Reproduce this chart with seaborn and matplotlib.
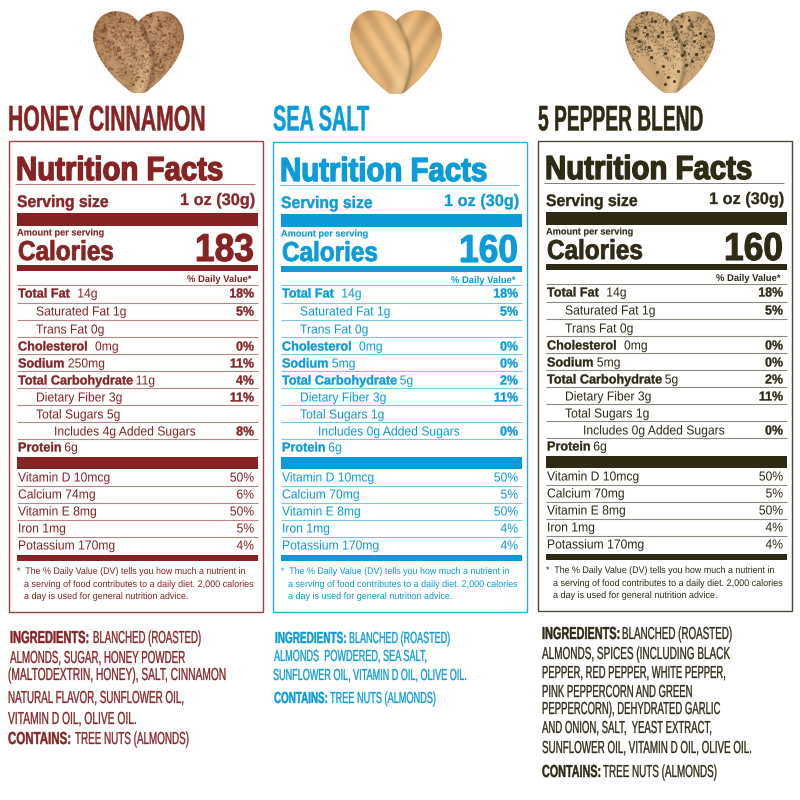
import matplotlib
matplotlib.use("Agg")
import matplotlib.pyplot as plt
import matplotlib.patheffects as pe
from matplotlib.path import Path
from matplotlib.patches import PathPatch, Rectangle
from matplotlib.transforms import Affine2D, Bbox
import numpy as np
import pandas as pd
import seaborn as sns

sns.set_theme(style="white")
plt.rcParams['font.family'] = ['Liberation Sans', 'DejaVu Sans']

titles = ["HONEY CINNAMON", "SEA SALT", "5 PEPPER BLEND"]
colors = ["#862325", "#0a9bd8", "#2e2a14"]
calories = ["183", "160", "160"]
daily_labels = ["Total Fat", "Saturated Fat", "Trans Fat", "Cholesterol", "Sodium",
                "Total Carbohydrate", "Dietary Fiber", "Total Sugars", "Includes", "Protein"]
fat = ["14g", "1g", "0g", "0mg"]
sodium = ["250mg", "5mg", "5mg"]
carb = ["11g", "5g", "5g"]
added = ["4g", "0g", "0g"]
sugars = ["5g", "1g", "1g"]
sodium_pct = ["11%", "0%", "0%"]
carb_pct = ["4%", "2%", "2%"]
added_pct = ["8%", "0%", "0%"]
vit_names = ["Vitamin D 10mcg", "Calcium", "Vitamin E 8mg", "Iron 1mg", "Potassium 170mg"]
calcium = ["74mg", "70mg", "70mg"]
calcium_pct = ["6%", "5%", "5%"]
iron_pct = ["5%", "4%", "4%"]
foot = ["*  The % Daily Value (DV) tells you how much a nutrient in",
        "a serving of food contributes to a daily diet. 2,000 calories",
        "a day is used for general nutrition advice."]

ingredient_heads = [["INGREDIENTS:", "", "", "", "", "CONTAINS:"],
                    ["INGREDIENTS:", "", "", "CONTAINS:"],
                    ["INGREDIENTS:", "", "", "", "", "", "", "CONTAINS:"]]
ingredient_text = [
    ["BLANCHED (ROASTED)", "ALMONDS, SUGAR, HONEY POWDER", "(MALTODEXTRIN, HONEY), SALT, CINNAMON",
     "NATURAL FLAVOR, SUNFLOWER OIL,", "VITAMIN D OIL, OLIVE OIL.", "TREE NUTS (ALMONDS)"],
    ["BLANCHED (ROASTED)", "ALMONDS  POWDERED, SEA SALT,", "SUNFLOWER OIL, VITAMIN D OIL, OLIVE OIL.",
     "TREE NUTS (ALMONDS)"],
    ["BLANCHED (ROASTED)", "ALMONDS, SPICES (INCLUDING BLACK", "PEPPER, RED PEPPER, WHITE PEPPER,",
     "PINK PEPPERCORN AND GREEN", "PEPPERCORN), DEHYDRATED GARLIC", "AND ONION, SALT,  YEAST EXTRACT,",
     "SUNFLOWER OIL, VITAMIN D OIL, OLIVE OIL.", "TREE NUTS (ALMONDS)"],
]

# layout (pixels): left of line, baseline centre, head end, text start, text end
ing_layout = [
    [(10, 637, 89, 93, 201), (10, 657, 0, 10, 185), (8, 674, 0, 8, 226), (8, 697, 0, 8, 184),
     (8, 718, 0, 8, 137), (8, 738, 71, 75, 189)],
    [(275, 637, 347, 349, 450), (274, 655, 0, 274, 427), (273, 674, 0, 273, 467), (274, 697, 328, 330, 436)],
    [(542, 633, 620, 622, 732), (542, 653, 0, 542, 730), (542, 672, 0, 542, 725), (542, 691, 0, 542, 692),
     (542, 708, 0, 542, 720), (542, 727, 0, 542, 712), (542, 747, 0, 542, 752), (542, 771, 601, 603, 717)],
]
ing_size = [12.5, 11.5, 12.5]
box_left = [9, 273, 538]
box_top = [141, 142, 141]
box_h = [471, 470, 470]
head_dy = [0, 1, -1]
table_dy = [0, 0, -1]
title_size = [25.7, 25.7, 25.7]
title_w = [197, 96, 165]
amount_gap = {"Total Fat": 8, "Cholesterol": 8, "Sodium": 4, "Total Carbohydrate": 3.5, "Protein": 3}

heart_boxes = [(93, 10, 184, 93), (350, 9, 442, 94), (625, 10, 715, 93)]
heart_base = ["#c09a72", "#e3b77f", "#d3ae80"]
heart_edge = ["#94683f", "#bb8a4e", "#a67e52"]
speck_color = ["#6e3a22", None, "#2c2418"]
mottle_col = ["#7a3f26", None, "#3a2e1e"]
mottle_cut = [.35, 9, .55]
speck_size = [3, 0, 5]
speck_x = [.22, .33, .41, .16, .27, .37, .44, .62, .71, .83, .57, .66, .77, .86, .29, .42, .63, .74, .35, .48, .59, .68, .44, .54, .24, .79, .11, .89]
speck_y = [.21, .13, .26, .37, .44, .31, .52, .19, .12, .28, .34, .42, .37, .45, .57, .67, .54, .61, .75, .81, .73, .66, .89, .85, .29, .53, .34, .31]

fig = plt.figure(figsize=(8, 8), dpi=100, facecolor="white")
ax = fig.add_axes([0, 0, 1, 1])
ax.set_xlim(0, 800)
ax.set_ylim(800, 0)
ax.axis("off")
renderer = fig.canvas.get_renderer()


class Squeeze(pe.AbstractPathEffect):
    """Draw the glyph outlines narrowed horizontally about the text origin."""

    def __init__(self, sx, fatten, color):
        super().__init__()
        self.sx, self.fatten, self.color = sx, fatten, color

    def draw_path(self, renderer, gc, tpath, affine, rgbFace=None):
        m = affine.get_matrix().copy()
        m[0, 0] *= self.sx
        m[0, 1] *= self.sx
        new = Affine2D(m)
        if self.fatten:
            g = renderer.new_gc()
            g.copy_properties(gc)
            g.set_linewidth(self.fatten)
            g.set_foreground(self.color)
            renderer.draw_path(g, tpath, new, rgbFace)
            g.restore()
        else:
            renderer.draw_path(gc, tpath, new, rgbFace)


def put(x, y, s, color, size, weight="normal", ha="left", fatten=0.0, w=None, sx=1.0):
    """Place text with its left (or right) edge at x, narrowed to width w or by factor sx."""
    t = ax.text(x, y, s, color=color, fontsize=size, fontweight=weight, ha="left", va="center_baseline", zorder=5)
    full = t.get_window_extent(renderer)
    if w is not None:
        sx = w / full.width
    new_w = full.width * sx
    if ha == "right":
        t.set_x(x - new_w)
    t.set_path_effects([Squeeze(sx, fatten, color)])
    orig = t.get_window_extent

    def extent(rend=None, dpi=None):
        b = orig(renderer)
        return Bbox.from_extents(b.x0, b.y0, b.x0 + b.width * sx, b.y1)

    t.get_window_extent = extent
    return t


def right_edge(t):
    return t.get_window_extent(renderer).x1


def heart(i):
    x0, y0, x1, y1 = heart_boxes[i]
    w, h = x1 - x0, y1 - y0
    P = lambda a, b: (x0 + a * w, y0 + b * h)
    verts = [P(.5, .14),
             P(.42, .03), P(.3, 0), P(.2, .02),
             P(.07, .05), P(0, .18), P(0, .33),
             P(.02, .62), P(.28, .88), P(.42, .99),
             P(.47, 1.01), P(.53, 1.01), P(.58, .99),
             P(.72, .88), P(.98, .62), P(1, .33),
             P(1, .18), P(.93, .05), P(.8, .02),
             P(.7, 0), P(.58, .03), P(.5, .14), P(.5, .14)]
    codes = [Path.MOVETO] + [Path.CURVE4] * 21 + [Path.CLOSEPOLY]
    path = Path(verts, codes)
    gx, gy = np.meshgrid(np.linspace(0, 1, 2 * w), np.linspace(0, 1, 2 * h))
    base = np.array(matplotlib.colors.to_rgb(heart_base[i]))
    edge = np.array(matplotlib.colors.to_rgb(heart_edge[i]))
    r = np.clip(np.hypot((gx - .5) / .62, (gy - .45) / .68), 0, 1)[..., None] ** 3
    img = base * (1 - r) + edge * r
    t = np.clip((gy - .14) / .86, 0, 1)
    seam_x = .5 + .11 * np.sin(np.pi * t) + .07 * t
    left = gx < seam_x
    ridge = np.where(left, np.sin(34 * (gx * .8 - gy * .45)), np.sin(34 * (gx * .8 + gy * .45)))
    img = img * (1 + (.04 if i != 1 else .07) * ridge[..., None])
    glow = np.exp(-((gx - seam_x + .07) / .08) ** 2) * np.clip((gy - .3) * 1.6, 0, 1)
    img = img + (np.array([.95, .82, .62]) - img) * glow[..., None] * .7
    shadow = np.exp(-((gx - seam_x - .015) / .022) ** 2) * .22
    img = img * (1 - shadow[..., None])
    if mottle_col[i]:
        # fine seasoning texture: warped interference of waves, so it shows no regular grid
        u = gx + .05 * np.sin(29 * gy + 11 * gx) + .03 * np.sin(71 * gy - 37 * gx)
        v = gy + .05 * np.sin(31 * gx - 17 * gy) + .03 * np.sin(83 * gx + 23 * gy)
        m = (np.sin(73 * u + 19 * v) * np.sin(29 * u - 83 * v)
             + np.sin(53 * u - 47 * v + 5 * np.sin(13 * u)) * np.sin(41 * u + 61 * v))
        cut = mottle_cut[i] + (np.clip(gy - .45, 0, 1) * 2.2 if i == 2 else np.clip(gy - .7, 0, 1) * 2)
        mask = np.clip((m - cut) * 4, 0, .85)[..., None]
        img = img * (1 - mask) + np.array(matplotlib.colors.to_rgb(mottle_col[i])) * mask
    im = ax.imshow(np.clip(img, 0, 1), extent=(x0, x1, y1, y0), aspect="auto", zorder=2, interpolation="bilinear")
    patch = PathPatch(path, fc="none", ec="none", transform=ax.transData)
    ax.add_patch(patch)
    im.set_clip_path(patch)
    if speck_color[i]:
        specks = pd.DataFrame({"x": [x0 + a * w for a in speck_x], "y": [y0 + b * h for b in speck_y]})
        before = len(ax.collections)
        sns.scatterplot(data=specks, x="x", y="y", color=speck_color[i], s=speck_size[i], linewidth=0,
                        alpha=.8, ax=ax, zorder=3, legend=False)
        for c in ax.collections[before:]:
            c.set_clip_path(patch)
    ax.set_xlim(0, 800)
    ax.set_ylim(800, 0)
    ax.set_xlabel("")
    ax.set_ylabel("")


for i in range(3):
    c = colors[i]
    L, T = box_left[i], box_top[i]
    dx = L - 9
    hd, td = head_dy[i], table_dy[i]
    heart(i)
    put(L - 1 if i == 0 else L, 117, titles[i], c, title_size[i], "bold", fatten=.3, w=title_w[i])
    ax.add_patch(Rectangle((L, T), 254, box_h[i], fc="none", ec=c, lw=1, alpha=.85, zorder=2))
    put(dx + 16, 168 + hd, "Nutrition Facts", c, 24, "bold", fatten=1.0, w=208)
    ax.hlines(184 + hd, dx + 15, dx + 255, color=c, lw=.7, alpha=.6)
    put(dx + 17, 201 + hd, "Serving size", c, 12, "bold", fatten=.3, w=91)
    put(dx + 255, 199 + hd, "1 oz (30g)", c, 12, "bold", ha="right", fatten=.2, w=75)
    ax.add_patch(Rectangle((dx + 17, 213 + hd), 241, 13, fc=c, ec="none"))
    put(dx + 17, 232 + hd, "Amount per serving", c, 6.8, "bold", fatten=.1, w=88)
    put(dx + 18, 250 + hd, "Calories", c, 19.7, "bold", fatten=.6, w=96)
    put(dx + 254, 247 + hd, calories[i], c, 28, "bold", ha="right", fatten=.8, w=59)
    ax.add_patch(Rectangle((dx + 17, 265 + hd), 241, 6, fc=c, ec="none"))
    put(dx + 252, 278 + hd, "% Daily Value*", c, 7, "bold", ha="right", w=65)
    rules = [285, 302.7, 320, 337, 354, 371, 388, 405, 422, 439, 486, 503, 520, 537]
    ax.hlines([r + td for r in rules], dx + 17, dx + 258, color=c, lw=.8, alpha=.55)
    rows = [(daily_labels[0], fat[0], "18%", 18, True, 293),
            (daily_labels[1], fat[1], "5%", 36, False, 311),
            (daily_labels[2], fat[2], "", 36, False, 329),
            (daily_labels[3], fat[3], "0%", 18, True, 346),
            (daily_labels[4], sodium[i], sodium_pct[i], 18, True, 363),
            (daily_labels[5], carb[i], carb_pct[i], 18, True, 380),
            (daily_labels[6], "3g", "11%", 36, False, 397),
            (daily_labels[7], sugars[i], "", 36, False, 414),
            (daily_labels[8], added[i] + " Added Sugars", added_pct[i], 54, False, 431),
            (daily_labels[9], "6g", "", 18, True, 447)]
    for lab, amt, pct, x, bold, y in rows:
        if bold:
            t = put(dx + x, y + td, lab, c, 9.4, "bold", fatten=.25, sx=.97)
            put(right_edge(t) + amount_gap[lab], y + td, amt, c, 9.4, sx=.93)
        else:
            put(dx + x, y + td, lab + " " + amt, c, 9.4, sx=.93)
        if pct:
            put(dx + 254, y + td, pct, c, 9.4, "bold", ha="right", fatten=.25, sx=.95)
    ax.add_patch(Rectangle((dx + 17, 457 + td), 241, 12, fc=c, ec="none"))
    vit_pct = ["50%", calcium_pct[i], "50%", iron_pct[i], "4%"]
    vit_y = [477, 494, 511, 528, 545]
    for name, p, y in zip(vit_names, vit_pct, vit_y):
        label = name + " " + calcium[i] if name == "Calcium" else name
        put(dx + 18, y + td, label, c, 9.4, sx=.93)
        put(dx + 254, y + td, p, c, 9.4, ha="right", sx=.93)
    ax.add_patch(Rectangle((dx + 17, 555 + td), 241, 6, fc=c, ec="none"))
    put(dx + 17, 570 + td, foot[0], c, 6.9, w=229)
    put(dx + 24, 583 + td, foot[1], c, 6.9, w=230)
    put(dx + 24, 595 + td, foot[2], c, 6.9, w=165)
    for head, text, (x, y, he, ts, te) in zip(ingredient_heads[i], ingredient_text[i], ing_layout[i]):
        if head:
            put(x, y, head, c, ing_size[i], "bold", fatten=.3, w=he - x)
        put(ts, y, text, c, ing_size[i], fatten=.2, w=te - ts)

fig.savefig("out.png", dpi=100, facecolor="white")
